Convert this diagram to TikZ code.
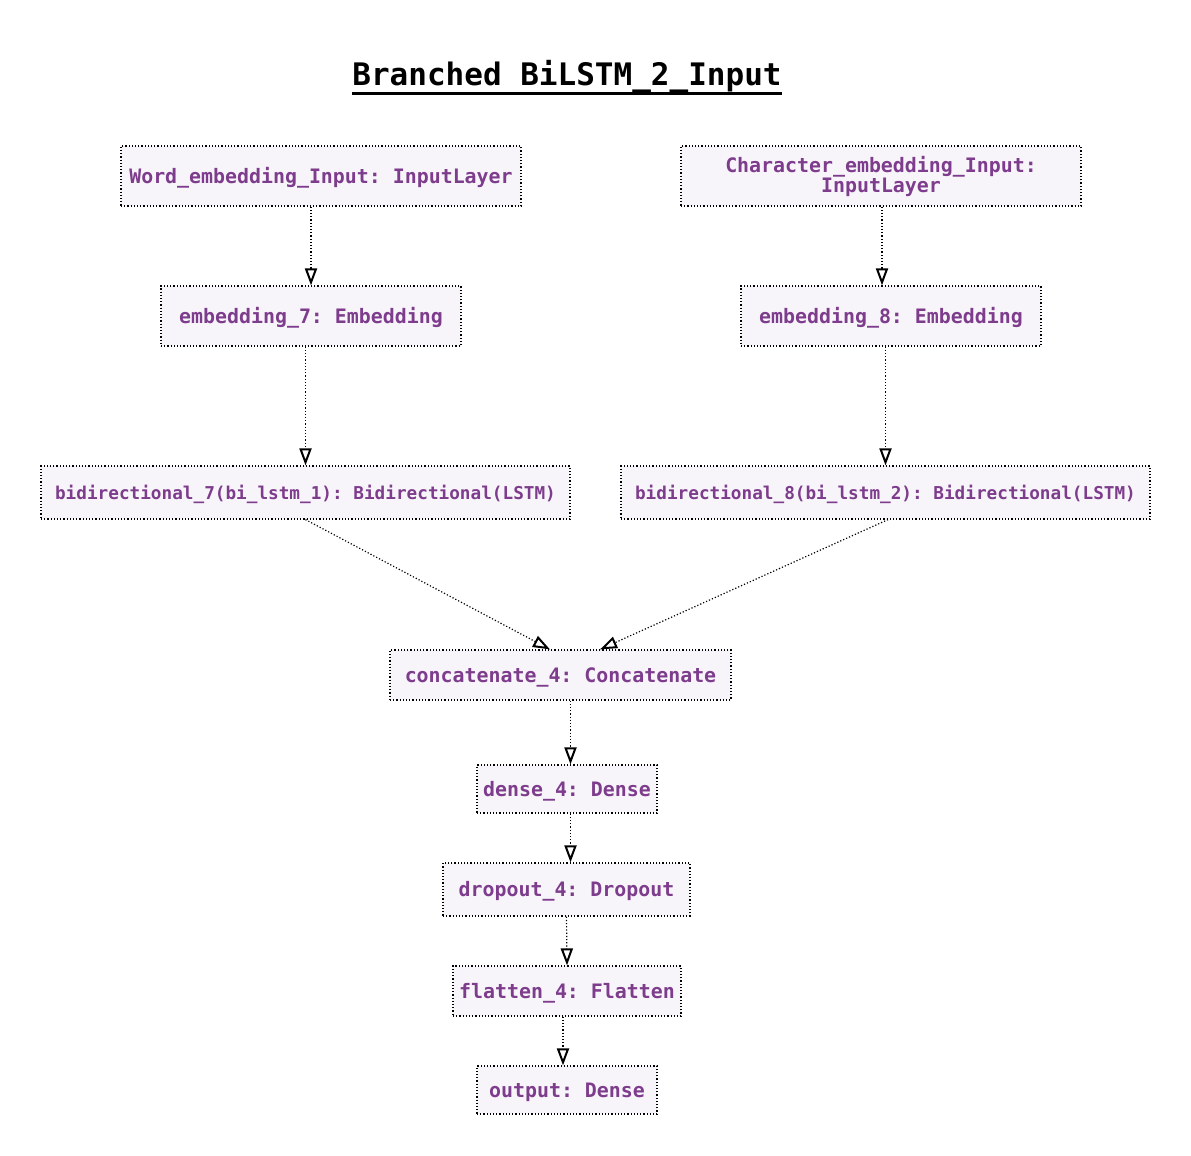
\documentclass[tikz,border=0pt]{standalone}
\usepackage{fontspec}
\setmonofont{DejaVu Sans Mono}
\newfontfamily\titlefont{DejaVu Sans Mono}
\usetikzlibrary{arrows.meta}
\definecolor{layertext}{RGB}{125,60,140}
\definecolor{layerfill}{RGB}{248,245,250}
\frenchspacing

\begin{document}
\begin{tikzpicture}[x=1pt,y=-1pt,
    boxbase/.style={draw=black,line width=1.2pt,dash pattern=on 1.2pt off 2pt,fill=layerfill,inner sep=0pt,
        text=layertext,align=center,font=\fontsize{19.9pt}{20pt}\selectfont\ttfamily\bfseries},
    layer/.style={boxbase,text height=19pt,text depth=5pt},
    smalllayer/.style={layer,font=\fontsize{17.7pt}{20pt}\selectfont\ttfamily\bfseries},
    flow/.style={line width=1.2pt,dash pattern=on 1.2pt off 2pt,-{Triangle[open,length=17pt,width=12pt,line width=2pt]}}]
        \useasboundingbox (0,0) rectangle (1191,1156);

        \node[anchor=base,inner sep=0pt,font=\fontsize{31pt}{31pt}\selectfont\titlefont\bfseries] (title) at (567,85) {Branched BiLSTM\_2\_Input};
        \draw[line width=3pt] ([yshift=-8.5pt]title.base west) -- ([yshift=-8.5pt]title.base east);

        \node[layer,minimum width=400pt,minimum height=60pt] (wordin) at (321,176) {Word\_embedding\_Input: InputLayer};
        \node[boxbase,minimum width=400pt,minimum height=60pt] (charin) at (881,176) {Character\_embedding\_Input:\\InputLayer};
        \node[layer,minimum width=300pt,minimum height=60pt] (emb7) at (311,316) {embedding\_7: Embedding};
        \node[layer,minimum width=300pt,minimum height=60pt] (emb8) at (891,316) {embedding\_8: Embedding};
        \node[smalllayer,minimum width=529pt,minimum height=53pt] (bi7) at (305.5,492.5) {bidirectional\_7(bi\_lstm\_1): Bidirectional(LSTM)};
        \node[smalllayer,minimum width=529pt,minimum height=53pt] (bi8) at (885.5,492.5) {bidirectional\_8(bi\_lstm\_2): Bidirectional(LSTM)};
        \node[layer,minimum width=341pt,minimum height=50pt] (concat) at (560.5,675) {concatenate\_4: Concatenate};
        \node[layer,minimum width=180pt,minimum height=48pt] (dense) at (567,789) {dense\_4: Dense};
        \node[layer,minimum width=247pt,minimum height=53pt] (drop) at (566.5,889.5) {dropout\_4: Dropout};
        \node[layer,minimum width=228pt,minimum height=50pt] (flat) at (567,991) {flatten\_4: Flatten};
        \node[layer,minimum width=180pt,minimum height=48pt] (out) at (567,1090) {output: Dense};

        \draw[flow] (wordin.south -| emb7.north) -- (emb7.north);
        \draw[flow] ([xshift=1pt]charin.south) -- ([xshift=1pt]charin.south |- emb8.north);
        \draw[flow] (emb7.south -| bi7.north) -- (bi7.north);
        \draw[flow] (emb8.south -| bi8.north) -- (bi8.north);
        \draw[flow] (bi7.south) -- ([xshift=-10.5pt]concat.north);
        \draw[flow] ([xshift=2.5pt]bi8.south) -- ([xshift=39.5pt]concat.north);
        \draw[flow] ([xshift=3.5pt]dense.north |- concat.south) -- ([xshift=3.5pt]dense.north);
        \draw[flow] ([xshift=3.5pt]dense.south) -- ([xshift=3.5pt]dense.south |- drop.north);
        \draw[flow] (drop.south) -- (flat.north);
        \draw[flow] ([xshift=-4pt]flat.south) -- ([xshift=-4pt]out.north);
    \end{tikzpicture}
\end{document}
